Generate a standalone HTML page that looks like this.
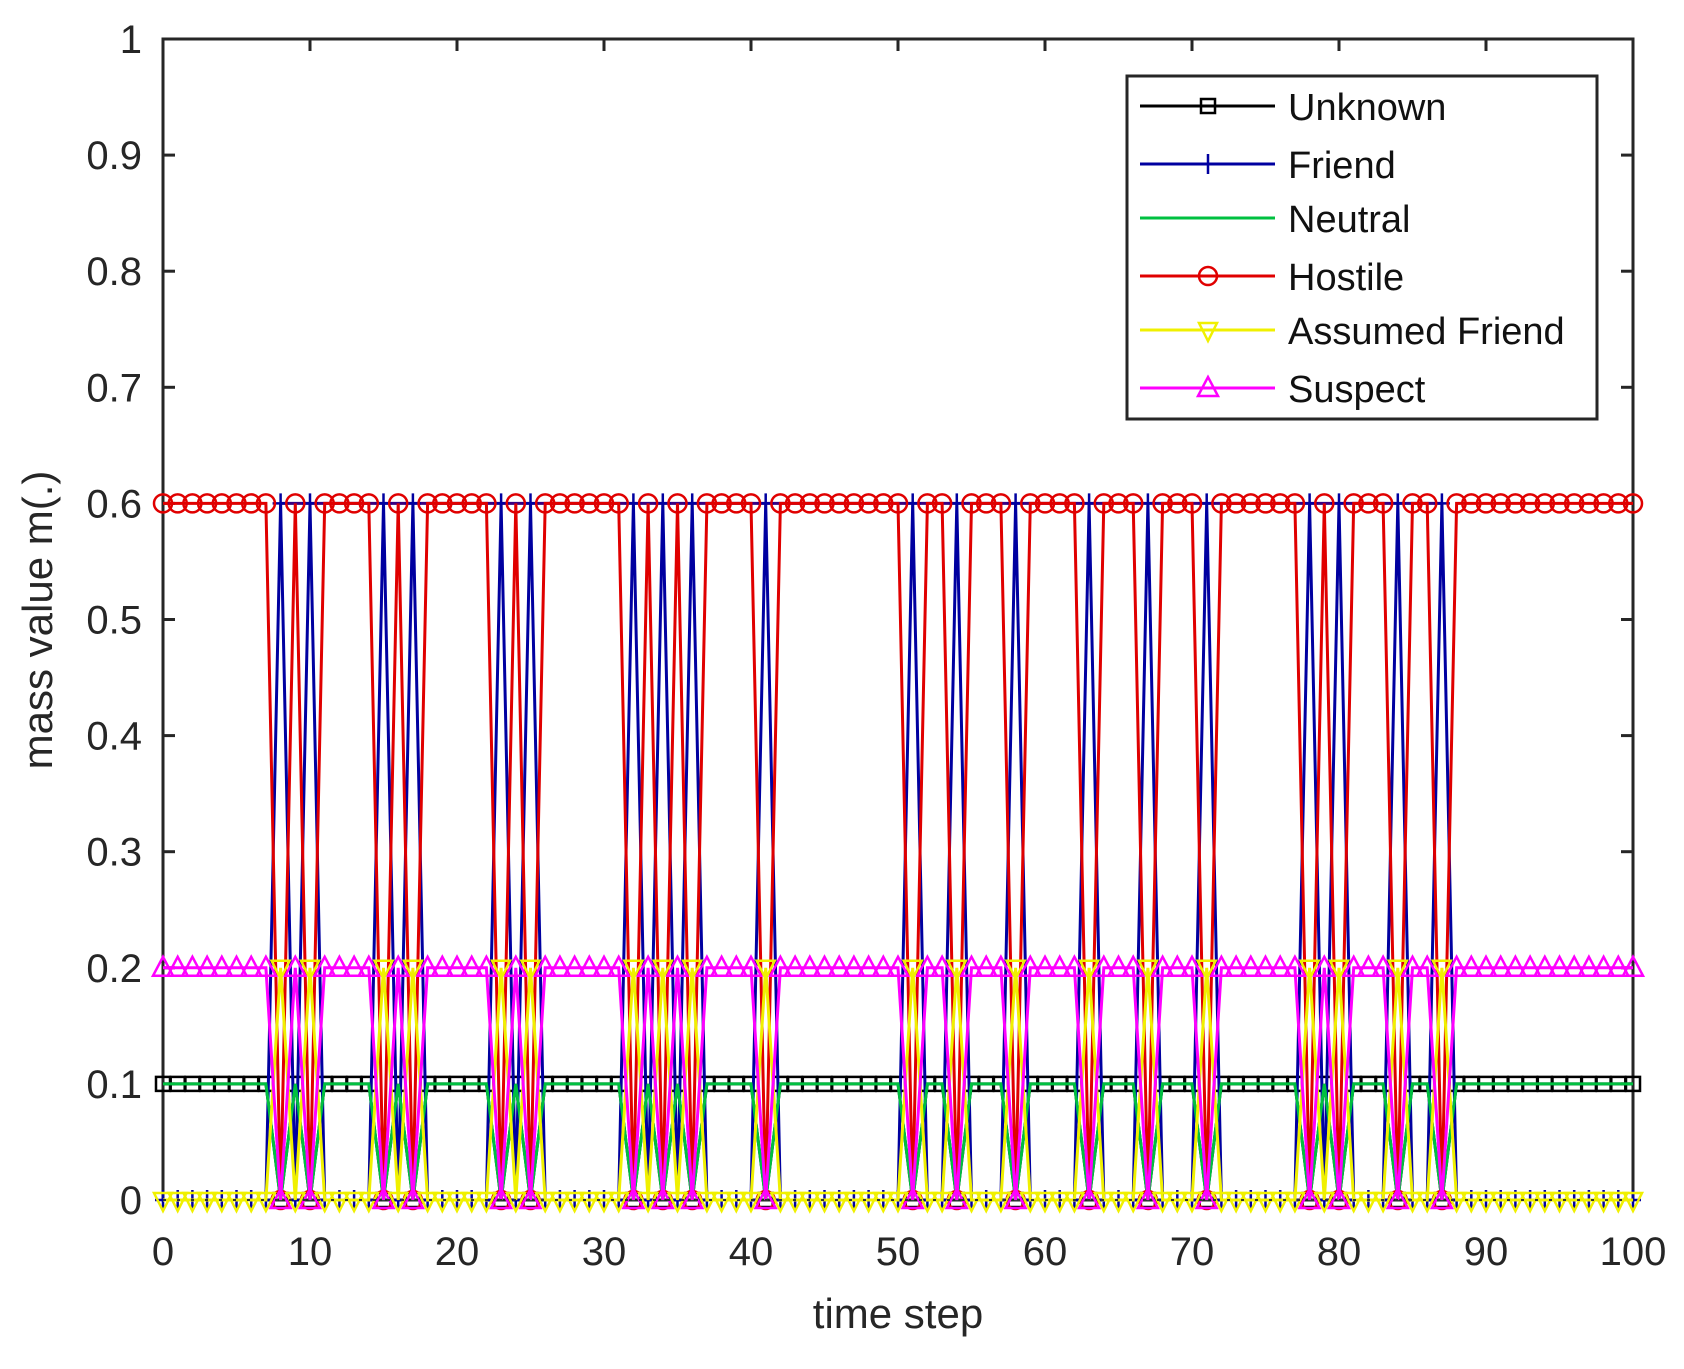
<!DOCTYPE html>
<html><head><meta charset="utf-8"><style>
body{margin:0;background:#fff;width:1684px;height:1364px;overflow:hidden}
text{font-family:"Liberation Sans",sans-serif;fill:#262626}
</style></head><body>
<svg id="s" width="1684" height="1364" xmlns="http://www.w3.org/2000/svg"></svg>
<script>
const s=document.getElementById('s');
const X=t=>163+t*14.7, Y=v=>1200-v*1161;
const an=new Set([8,10,15,17,23,25,32,34,36,41,51,54,58,63,67,71,78,80,84,87]);
let h='';
h+='<rect x="163" y="39" width="1470" height="1161" fill="none" stroke="#262626" stroke-width="3"/>';
for(let i=0;i<=10;i++){const y=Y(i/10);
 h+=`<line x1="163" y1="${y}" x2="175" y2="${y}" stroke="#262626" stroke-width="3"/><line x1="1621" y1="${y}" x2="1633" y2="${y}" stroke="#262626" stroke-width="3"/>`;
 h+=`<text x="142" y="${y+14}" font-size="40" text-anchor="end">${i==0?'0':i==10?'1':(i/10).toFixed(1)}</text>`;
 const x=X(i*10);
 h+=`<line x1="${x}" y1="39" x2="${x}" y2="51" stroke="#262626" stroke-width="3"/>`;
 h+=`<text x="${x}" y="1265" font-size="40" text-anchor="middle">${i*10}</text>`;
}
h+='<text x="898" y="1328" font-size="42" text-anchor="middle">time step</text>';
h+='<text transform="translate(52,620) rotate(-90)" font-size="42" text-anchor="middle">mass value m(.)</text>';
const ser=[
 ['#000',t=>an.has(t)?0:0.1,'sq'],
 ['#0000a0',t=>an.has(t)?0.6:0,'plus'],
 ['#00c040',t=>an.has(t)?0:0.1,null],
 ['#e00000',t=>an.has(t)?0:0.6,'circ'],
 ['#f0f000',t=>an.has(t)?0.2:0,'dtri'],
 ['#ff00ff',t=>an.has(t)?0:0.2,'utri'],
];
function mk(m,x,y,c){
 if(m=='sq')return `<rect x="${x-7}" y="${y-7}" width="14" height="14" fill="none" stroke="${c}" stroke-width="2.5"/>`;
 if(m=='plus')return `<path d="M${x-8} ${y}H${x+8}M${x} ${y-10}V${y+10}" stroke="${c}" stroke-width="2.5"/>`;
 if(m=='circ')return `<circle cx="${x}" cy="${y}" r="9" fill="none" stroke="${c}" stroke-width="2.5"/>`;
 if(m=='dtri')return `<path d="M${x-9} ${y-7}H${x+9}L${x} ${y+11}Z" fill="none" stroke="${c}" stroke-width="2.5"/>`;
 if(m=='utri')return `<path d="M${x-10} ${y+8}H${x+10}L${x} ${y-11}Z" fill="none" stroke="${c}" stroke-width="2.5"/>`;
 return '';
}
for(const [c,f,m] of ser){
 let p=[];for(let t=0;t<=100;t++)p.push(X(t).toFixed(1)+','+Y(f(t)).toFixed(1));
 h+=`<polyline points="${p.join(' ')}" fill="none" stroke="${c}" stroke-width="3"/>`;
 if(c=='#0000a0')h+=`<line x1="${X(8)}" y1="${Y(0.6)}" x2="${X(87)}" y2="${Y(0.6)}" stroke="#3a0080" stroke-width="3"/>`;
 if(m)for(let t=0;t<=100;t++)h+=mk(m,X(t),Y(f(t)),c);
}
h+=`<line x1="${X(0)}" y1="${Y(0)}" x2="${X(100)}" y2="${Y(0)}" stroke="#333" stroke-width="2" stroke-dasharray="3 11"/>`;
h+='<rect x="1127" y="76" width="470" height="343" fill="#fff" stroke="#262626" stroke-width="3"/>';
const names=['Unknown','Friend','Neutral','Hostile','Assumed Friend','Suspect'];
const ly=[106,164,218,276,330,388];
ser.forEach(([c,f,m],i)=>{
 h+=`<line x1="1140" y1="${ly[i]}" x2="1275" y2="${ly[i]}" stroke="${c}" stroke-width="3"/>`+mk(m,1208,ly[i],c);
 h+=`<text x="1288" y="${ly[i]+14}" font-size="38" style="fill:#111">${names[i]}</text>`;
});
s.innerHTML=h;
</script>
</body></html>
